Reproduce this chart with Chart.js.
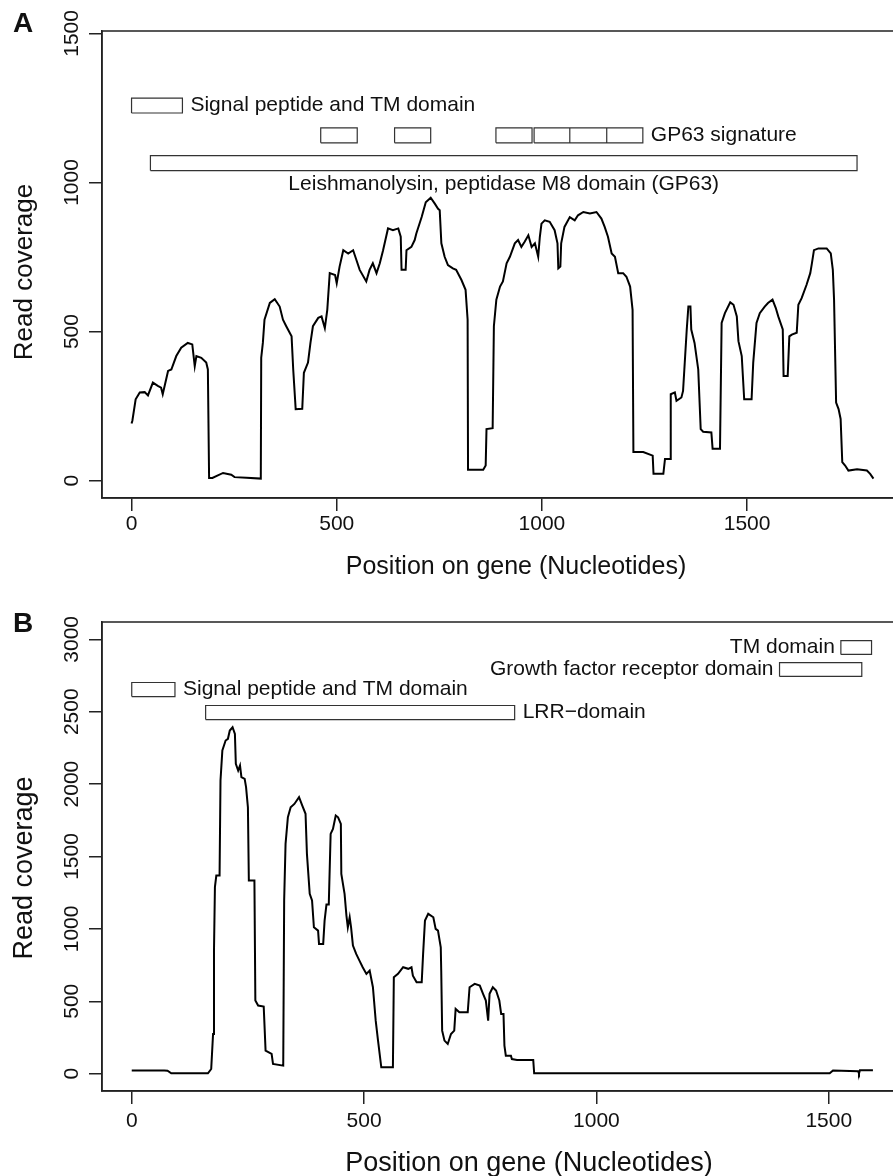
<!DOCTYPE html>
<html>
<head>
<meta charset="utf-8">
<script src="https://cdn.jsdelivr.net/npm/chart.js@4.4.1/dist/chart.umd.min.js"></script>
<style>
html, body { margin: 0; padding: 0; background: #fff; overflow: hidden; }
#wrap { position: relative; width: 893px; height: 1176px; overflow: hidden; }
canvas { position: absolute; left: 0; }
#chartA { top: 0; }
#chartB { top: 590px; }
</style>
</head>
<body>
<div id="wrap">
<canvas id="chartA" width="910" height="590"></canvas>
<canvas id="chartB" width="910" height="586"></canvas>
</div>
<script>
// Panel A: coverage along the GP63 gene
const posA = [0,2,10,20,32,40,52,64,72,76,89,97,109,121,137,148,154,158,170,182,186,189,197,223,243,251,280,315,316,320,324,337,349,361,369,377,390,394,400,416,420,430,436,442,455,463,471,477,483,496,500,507,516,528,540,548,556,572,580,588,597,605,613,625,637,650,656,658,668,670,682,690,694,707,717,729,739,747,751,755,763,771,783,791,804,814,819,820,857,863,865,880,883,889,898,905,914,922,934,942,950,958,967,975,983,991,995,999,1007,1019,1031,1038,1040,1045,1047,1055,1068,1080,1088,1101,1117,1133,1145,1153,1161,1170,1178,1186,1198,1206,1215,1221,1223,1247,1270,1272,1296,1300,1313,1314,1324,1328,1340,1344,1353,1357,1362,1364,1372,1381,1387,1393,1413,1416,1434,1438,1446,1459,1467,1475,1479,1487,1493,1511,1515,1523,1531,1543,1551,1562,1570,1576,1587,1589,1599,1603,1609,1621,1625,1633,1645,1654,1658,1663,1674,1694,1704,1709,1712,1717,1723,1728,1732,1739,1747,1768,1792,1800,1808];
const covA = [192,201,273,296,297,286,329,318,312,290,368,373,418,446,462,457,384,418,412,396,373,9,9,26,20,12,10,7,412,462,540,596,609,584,540,518,484,373,240,241,362,396,462,518,546,551,512,573,696,690,662,718,773,762,773,740,707,668,707,729,696,729,773,846,840,846,818,707,707,773,784,807,829,884,934,949,929,912,907,796,751,723,712,707,673,640,540,37,37,51,173,176,518,607,651,668,729,751,796,807,784,801,823,784,796,751,818,862,873,868,840,796,712,718,796,851,884,873,890,901,896,901,879,851,818,762,751,696,696,684,651,573,96,96,84,23,23,73,73,290,296,268,279,301,507,584,584,507,462,373,173,164,162,107,107,529,562,598,590,551,468,418,273,273,396,529,562,584,596,607,579,551,507,351,351,484,490,496,590,612,657,696,729,773,779,779,762,707,607,262,240,207,62,51,34,38,34,23,7];
const xTicksA = [0, 500, 1000, 1500];
const yTicksA = [0, 500, 1000, 1500];

// domain boxes A (signal, 6 x GP63 signature, leishmanolysin)
const boxStartA = [0, 461, 641, 888, 981, 1068, 1158, 46];
const boxEndA = [124, 550, 729, 976, 1068, 1158, 1246, 1768];
const boxLowA = [1233, 1133, 1133, 1133, 1133, 1133, 1133, 1040];
const boxHighA = [1283, 1183, 1183, 1183, 1183, 1183, 1183, 1090];
const labelTextA = ['Signal peptide and TM domain', 'GP63 signature', 'Leishmanolysin, peptidase M8 domain (GP63)'];
const labelBoxA = [0, 6, 7];
const labelSideA = ['right', 'right', 'below'];

// Panel B
const posB = [0,53,70,77,85,164,171,175,177,179,182,189,191,195,202,207,211,217,222,224,229,233,236,243,246,250,252,264,266,272,284,288,301,304,326,328,331,336,342,350,360,367,374,377,383,388,392,401,403,412,415,419,424,428,433,439,444,450,451,458,462,465,469,472,476,483,490,497,505,512,519,525,530,537,562,564,573,584,595,602,605,613,624,627,631,638,649,654,659,665,666,668,673,680,687,694,697,705,723,727,738,749,756,762,767,770,777,784,791,795,800,802,805,816,818,829,864,866,1502,1509,1563,1565,1567,1595];
const covB = [21,22,22,20,2,2,32,274,850,1288,1368,1368,2025,2232,2301,2313,2370,2393,2347,2140,2094,2129,2048,2036,1979,1840,1334,1334,505,470,463,159,136,67,55,1196,1587,1771,1840,1863,1910,1852,1795,1518,1242,1196,1011,988,896,896,1057,1168,1168,1656,1690,1783,1771,1725,1380,1242,1092,1011,1080,1011,885,827,781,735,689,712,597,366,228,44,44,666,689,735,724,735,677,631,631,827,1057,1104,1080,1000,988,873,712,297,228,205,274,297,447,424,424,597,620,608,551,505,366,551,597,574,505,412,412,194,124,124,101,95,95,2,2,21,17,1,24,24];
const xTicksB = [0, 500, 1000, 1500];
const yTicksB = [0, 500, 1000, 1500, 2000, 2500, 3000];

const boxStartB = [0, 159, 1526, 1394];
const boxEndB = [93, 824, 1592, 1571];
const boxLowB = [2605, 2446, 2896, 2744];
const boxHighB = [2702, 2543, 2992, 2840];
const labelTextB = ['Signal peptide and TM domain', 'LRR\u2212domain', 'TM domain', 'Growth factor receptor domain'];
const labelBoxB = [0, 1, 2, 3];
const labelSideB = ['right', 'right', 'left', 'left'];

const FONT = '"Liberation Sans", Arial, Helvetica, sans-serif';
Chart.defaults.font.family = FONT;
Chart.defaults.color = '#111';

function rectPoints(s, e, lo, hi) {
  const pts = [];
  s.forEach((x0, i) => {
    pts.push({x: x0, y: lo[i]}, {x: e[i], y: lo[i]}, {x: e[i], y: hi[i]}, {x: x0, y: hi[i]}, {x: x0, y: lo[i]}, {x: x0, y: null});
  });
  return pts;
}

// box frame, domain labels, axis titles, panel letter
const framePlugin = {
  id: 'frame',
  afterDatasetsDraw(chart, args, o) {
    const {ctx, chartArea: a} = chart;
    const xs = chart.scales.x, ys = chart.scales.y;
    ctx.save();
    ctx.strokeStyle = '#222';
    ctx.lineWidth = 1.5;
    ctx.strokeRect(a.left, a.top, a.right - a.left, a.bottom - a.top);

    ctx.fillStyle = '#111';
    ctx.font = '21px ' + FONT;
    ctx.textBaseline = 'middle';
    o.text.forEach((t, i) => {
      const b = o.box[i];
      const x0 = xs.getPixelForValue(o.start[b]);
      const x1 = xs.getPixelForValue(o.end[b]);
      const yl = ys.getPixelForValue(o.low[b]);
      const yh = ys.getPixelForValue(o.high[b]);
      if (o.side[i] === 'right') {
        ctx.textAlign = 'left';
        ctx.fillText(t, x1 + 8, (yl + yh) / 2);
      } else if (o.side[i] === 'left') {
        ctx.textAlign = 'right';
        ctx.fillText(t, x0 - 6, (yl + yh) / 2);
      } else {
        ctx.textAlign = 'center';
        ctx.fillText(t, (x0 + x1) / 2, yl + 14);
      }
    });

    // axis titles
    ctx.textAlign = 'center';
    ctx.font = o.xTitle[2] + 'px ' + FONT;
    ctx.fillText('Position on gene (Nucleotides)', o.xTitle[0], o.xTitle[1]);
    ctx.save();
    ctx.translate(o.yTitle[0], o.yTitle[1]);
    ctx.rotate(-Math.PI / 2);
    ctx.font = o.yTitle[2] + 'px ' + FONT;
    ctx.fillText('Read coverage', 0, 0);
    ctx.restore();

    ctx.font = 'bold 28px ' + FONT;
    ctx.textAlign = 'left';
    ctx.textBaseline = 'alphabetic';
    ctx.fillText(o.letter, 13, o.letterY);
    ctx.restore();
  }
};

function makePanel(id, p) {
  return new Chart(document.getElementById(id), {
    type: 'line',
    data: {
      datasets: [{
        data: p.pos.map((x, i) => ({x: x, y: p.cov[i]})),
        borderColor: '#000',
        borderWidth: 2,
        pointRadius: 0,
        tension: 0
      }, {
        data: rectPoints(p.start, p.end, p.low, p.high),
        borderColor: '#333',
        borderWidth: 1.2,
        pointRadius: 0,
        spanGaps: false,
        tension: 0
      }]
    },
    options: {
      responsive: false,
      animation: false,
      layout: {padding: {top: p.top, right: p.right, bottom: 0, left: 0}},
      plugins: {
        legend: {display: false},
        tooltip: {enabled: false},
        frame: {
          text: p.text, box: p.labelBox, side: p.side,
          start: p.start, end: p.end, low: p.low, high: p.high,
          letter: p.letter, letterY: p.letterY,
          xTitle: p.xTitle, yTitle: p.yTitle
        }
      },
      scales: {
        x: {
          type: 'linear',
          min: p.xmin, max: p.xmax,
          afterBuildTicks: s => { s.ticks = p.xTicks.map(v => ({value: v})); },
          afterFit: s => { s.height = p.xAxisH; },
          grid: {drawOnChartArea: false, drawTicks: true, tickLength: 13, color: '#222', lineWidth: 1.5},
          border: {display: true, color: '#222', width: 1.5},
          ticks: {autoSkip: false, maxRotation: 0, padding: p.xTickPad, font: {size: 21}, color: '#111', callback: v => String(v)}
        },
        y: {
          type: 'linear',
          min: p.ymin, max: p.ymax,
          afterBuildTicks: s => { s.ticks = p.yTicks.map(v => ({value: v})); },
          afterFit: s => { s.width = 102; },
          grid: {drawOnChartArea: false, drawTicks: true, tickLength: 13, color: '#222', lineWidth: 1.5},
          border: {display: true, color: '#222', width: 1.5},
          ticks: {autoSkip: false, minRotation: 90, maxRotation: 90, crossAlign: 'center', padding: -7, font: {size: 21}, color: '#111', callback: v => String(v)}
        }
      }
    },
    plugins: [framePlugin]
  });
}

makePanel('chartA', {
  pos: posA, cov: covA, xTicks: xTicksA, yTicks: yTicksA,
  start: boxStartA, end: boxEndA, low: boxLowA, high: boxHighA,
  text: labelTextA, labelBox: labelBoxA, side: labelSideA,
  xmin: -72, xmax: 1880, ymin: -58, ymax: 1508,
  top: 31, right: 7, xAxisH: 92, xTickPad: 1,
  xTitle: [516, 567, 25], yTitle: [25, 272, 26],
  letter: 'A', letterY: 32
});

makePanel('chartB', {
  pos: posB, cov: covB, xTicks: xTicksB, yTicks: yTicksB,
  start: boxStartB, end: boxEndB, low: boxLowB, high: boxHighB,
  text: labelTextB, labelBox: labelBoxB, side: labelSideB,
  xmin: -64, xmax: 1664, ymin: -120, ymax: 3120,
  top: 32, right: 5, xAxisH: 85, xTickPad: 5,
  xTitle: [529, 574, 27], yTitle: [25, 278, 27],
  letter: 'B', letterY: 42
});
</script>
</body>
</html>
